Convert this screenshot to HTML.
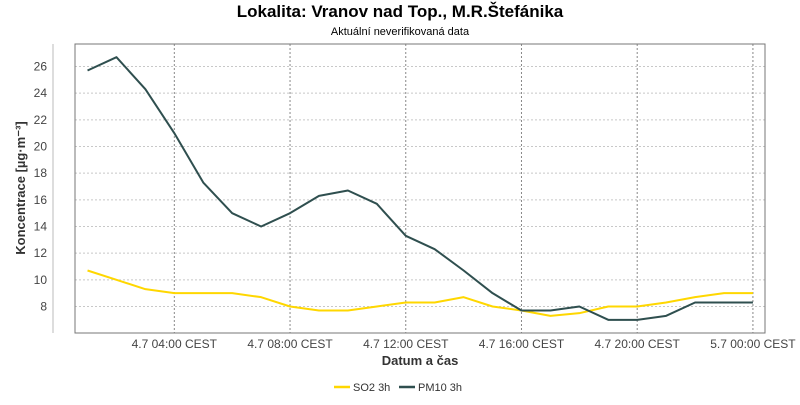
<!DOCTYPE html>
<html><head><meta charset="utf-8"><style>
body{margin:0;background:#fff;font-family:"Liberation Sans",sans-serif}
</style></head><body>
<svg width="800" height="400" xmlns="http://www.w3.org/2000/svg" font-family="Liberation Sans, sans-serif">
<text x="400" y="17" text-anchor="middle" font-size="17" font-weight="bold" fill="#000">Lokalita: Vranov nad Top., M.R.Štefánika</text>
<text x="400" y="35" text-anchor="middle" font-size="11" fill="#000">Aktuální neverifikovaná data</text>
<line x1="53" y1="44" x2="53" y2="333" stroke="#bbb"/>
<g id="grid"></g>
<rect x="75" y="44" width="690" height="289" fill="none" stroke="#777"/>
<g id="yticks" font-size="12" fill="#444" text-anchor="end"></g>
<g id="xticks" font-size="12" fill="#444" text-anchor="middle"></g>
<g id="series"></g>
<text transform="translate(25,188) rotate(-90)" text-anchor="middle" font-size="13" font-weight="bold" fill="#333">Koncentrace [µg·m⁻³]</text>
<text x="420" y="365" text-anchor="middle" font-size="13" font-weight="bold" fill="#333">Datum a čas</text>
<g font-size="11" fill="#333">
<g><line x1="334" y1="387" x2="350" y2="387" stroke="#ffd700" stroke-width="2.5"/><text x="353" y="391">SO2 3h</text></g>
<g><line x1="399" y1="387" x2="415" y2="387" stroke="#2f4f4f" stroke-width="2.5"/><text x="418" y="391">PM10 3h</text></g>
</g>
</svg>
<script>
const hours=[1,2,3,4,5,6,7,8,9,10,11,12,13,14,15,16,17,18,19,20,21,22,23,24];
const pm10=[25.7,26.7,24.3,21,17.3,15,14,15,16.3,16.7,15.7,13.3,12.3,10.7,9,7.7,7.7,8,7,7,7.3,8.3,8.3,8.3];
const so2=[10.7,10,9.3,9,9,9,8.7,8,7.7,7.7,8,8.3,8.3,8.7,8,7.7,7.3,7.5,8,8,8.3,8.7,9,9];
const yTicks=[8,10,12,14,16,18,20,22,24,26];
const xTickHours=[4,8,12,16,20,24];
const xTickLabels=["4.7 04:00 CEST","4.7 08:00 CEST","4.7 12:00 CEST","4.7 16:00 CEST","4.7 20:00 CEST","5.7 00:00 CEST"];
const NS="http://www.w3.org/2000/svg";
const xs=h=>58.6+h*28.93;
const ys=v=>306.5-(v-8)*13.333;
function mk(tag,attrs,parent){const e=document.createElementNS(NS,tag);for(const k in attrs)e.setAttribute(k,attrs[k]);document.getElementById(parent).appendChild(e);return e;}
yTicks.forEach(v=>{
 const l=mk('line',{x1:75,x2:765,y1:ys(v),y2:ys(v),stroke:'#c8c8c8','stroke-dasharray':'2,2'},'grid');
 
 
 const t=mk('text',{x:47,y:ys(v)+4},'yticks');t.textContent=v;
 
 
});
xTickHours.forEach((h,i)=>{
 const l=mk('line',{x1:xs(h),x2:xs(h),y1:44,y2:333,stroke:'#888','stroke-dasharray':'2,2'},'grid');
 
 
 const t=mk('text',{x:xs(h),y:348},'xticks');t.textContent=xTickLabels[i];
 
 
});
function line(vals,color,name){
 const p=mk('polyline',{points:vals.map((v,i)=>xs(hours[i])+','+ys(v)).join(' '),fill:'none',stroke:color,'stroke-width':2,'stroke-linejoin':'round'},'series');
 
 
}
line(so2,'#ffd700','so2-line');
line(pm10,'#2f4f4f','pm10-line');
</script>
</body></html>
